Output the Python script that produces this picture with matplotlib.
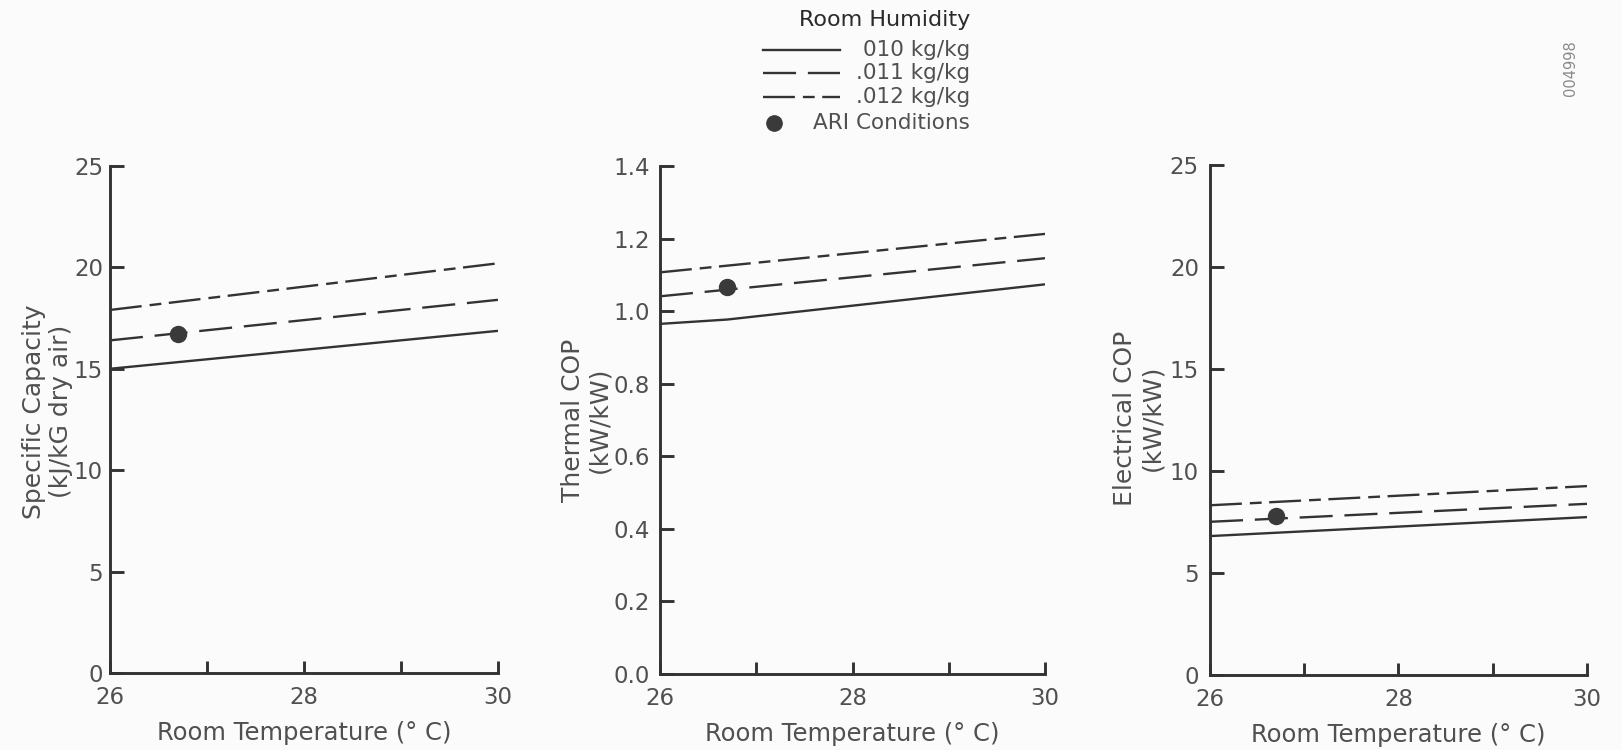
import matplotlib
matplotlib.use("Agg")
import matplotlib.pyplot as plt

# ---------------- data ----------------
temp_lines = [26, 30]
temp_thermal_010 = [26, 26.7, 30]
ari_temp = 26.7

cap_010 = [15.0, 16.87]
cap_011 = [16.4, 18.4]
cap_012 = [17.9, 20.2]
cap_ari = 16.7

tcop_010 = [0.965, 0.977, 1.074]
tcop_011 = [1.041, 1.146]
tcop_012 = [1.107, 1.213]
tcop_ari = 1.067

ecop_010 = [6.81, 7.74]
ecop_011 = [7.51, 8.39]
ecop_012 = [8.32, 9.26]
ecop_ari = 7.79

x_ticks = [26, 27, 28, 29, 30]
x_ticklabels = ["26", "", "28", "", "30"]
cap_ticks = [0, 5, 10, 15, 20, 25]
tcop_ticks = [0.0, 0.2, 0.4, 0.6, 0.8, 1.0, 1.2, 1.4]
ecop_ticks = [0, 5, 10, 15, 20, 25]

legend_title = "Room Humidity"
legend_labels = ["010 kg/kg", ".011 kg/kg", ".012 kg/kg", "ARI Conditions"]
x_label = "Room Temperature (° C)"
y_labels = ["Specific Capacity\n(kJ/kG dry air)", "Thermal COP\n(kW/kW)", "Electrical COP\n(kW/kW)"]

# ---------------- style ----------------
BG = "#fbfbfb"
INK = "#333333"
TXT = "#505050"
LW = 1.7
AXW = 2.1
STY_010 = dict(linestyle="-")
STY_011 = dict(dashes=(14, 5))
STY_012 = dict(dashes=(13.5, 3.4, 5, 3.2))

plt.rcParams["font.family"] = ["DejaVu Sans"]

fig = plt.figure(figsize=(16.22, 7.5), dpi=100, facecolor=BG)

panels = [
    dict(rect=[0.0678, 0.1027, 0.2392, 0.676], x010=temp_lines, y=(cap_010, cap_011, cap_012), ari=cap_ari,
         ylim=(0, 25), ticks=cap_ticks, fmt="{:d}", ylabel=y_labels[0], lc=(-0.095, 0.515), ypad=5.0),
    dict(rect=[0.4069, 0.1013, 0.2374, 0.6773], x010=temp_thermal_010, y=(tcop_010, tcop_011, tcop_012), ari=tcop_ari,
         ylim=(0, 1.4), ticks=tcop_ticks, fmt="{:.1f}", ylabel=y_labels[1], lc=(-0.125, 0.5), ypad=7.5),
    dict(rect=[0.7460, 0.1000, 0.2324, 0.6800], x010=temp_lines, y=(ecop_010, ecop_011, ecop_012), ari=ecop_ari,
         ylim=(0, 25), ticks=ecop_ticks, fmt="{:d}", ylabel=y_labels[2], lc=(-0.122, 0.504), ypad=8.0),
]

for p in panels:
    ax = fig.add_axes(p["rect"])
    ax.set_facecolor("none")
    y010, y011, y012 = p["y"]
    ax.plot(p["x010"], y010, color=INK, lw=LW, solid_capstyle="butt", **STY_010)
    ax.plot(temp_lines, y011, color=INK, lw=LW, **STY_011)
    ax.plot(temp_lines, y012, color=INK, lw=LW, **STY_012)
    ax.plot([ari_temp], [p["ari"]], "o", color="#3a3a3a", ms=11.5, zorder=5)
    ax.set_xlim(26, 30)
    ax.set_ylim(*p["ylim"])
    for s in ("top", "right"):
        ax.spines[s].set_visible(False)
    for s in ("left", "bottom"):
        ax.spines[s].set_linewidth(AXW)
        ax.spines[s].set_color(INK)
    ax.set_xticks(x_ticks)
    ax.set_xticklabels(x_ticklabels)
    ax.set_yticks(p["ticks"])
    if p["fmt"] == "{:d}":
        ax.set_yticklabels([p["fmt"].format(int(t)) for t in p["ticks"]])
    else:
        ax.set_yticklabels([p["fmt"].format(t) for t in p["ticks"]])
    ax.tick_params(axis="x", direction="in", length=9, width=AXW, color=INK, pad=9.5,
                   labelsize=16.5, labelcolor=TXT)
    ax.tick_params(axis="y", direction="in", length=10, width=AXW, color=INK, pad=p["ypad"],
                   labelsize=16.5, labelcolor=TXT)
    ax.set_xlabel(x_label, fontsize=17.5, color=TXT)
    ax.xaxis.set_label_coords(0.5, -0.094)
    ax.set_ylabel(p["ylabel"], fontsize=18, color=TXT, multialignment="center", linespacing=1.15)
    ax.yaxis.set_label_coords(*p["lc"])

# ---------------- legend (drawn in pixel space) ----------------
lg = fig.add_axes([0, 0, 1, 1])
lg.set_xlim(0, 1622)
lg.set_ylim(750, 0)
lg.axis("off")
lg.patch.set_visible(False)
KX0, KX1, TX = 763, 840, 970
rows = [50, 73, 97, 123]
lg.text(TX, 20, legend_title, ha="right", va="center", fontsize=16, color="#2a2a2a")
for yy, sty, lab in zip(rows[:3], (STY_010, STY_011, STY_012), legend_labels[:3]):
    lg.plot([KX0, KX1], [yy, yy], color=INK, lw=LW, **sty)
    lg.text(TX, yy, lab, ha="right", va="center", fontsize=15.5, color=TXT)
lg.plot([774], [rows[3]], "o", color="#3a3a3a", ms=11)
lg.text(TX, rows[3], legend_labels[3], ha="right", va="center", fontsize=15.5, color=TXT)

fig.text(1571 / 1622, 1 - 68 / 750, "004998", rotation=90, ha="center", va="center",
         fontsize=10.5, color="#8a8a8a")

fig.savefig("out.png", dpi=100, facecolor=BG)
